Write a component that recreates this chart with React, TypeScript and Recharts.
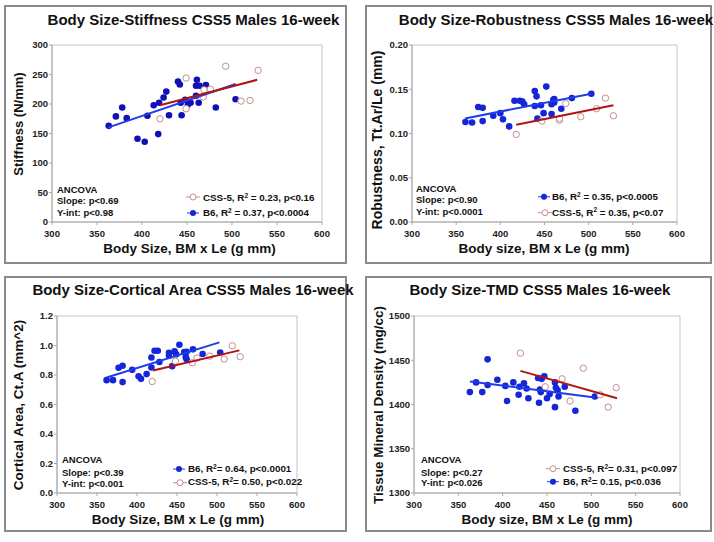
import { ReferenceArea, Scatter, ScatterChart, XAxis, YAxis } from "recharts";

type Pt = [number, number];

const X_TICKS = [300, 350, 400, 450, 500, 550, 600];

// Stiffness panel
const stiffB6: Pt[] = [
  [363, 163], [371, 179], [378, 194], [383, 176], [395, 141], [403, 136], [406, 180],
  [413, 198], [419, 202], [418, 149], [424, 211], [427, 221], [430, 181], [440, 238],
  [442, 233], [444, 181], [443, 202], [448, 207], [451, 199], [454, 202], [461, 241],
  [460, 231], [464, 231], [460, 214], [463, 202], [471, 232], [482, 194], [504, 208],
];
const stiffCss: Pt[] = [
  [449, 244], [493, 264], [529, 257], [420, 175], [449, 192], [468, 212], [469, 224],
  [476, 225], [510, 205], [520, 206],
];
const stiffB6Fit: Pt[] = [[362, 160], [504, 234]];
const stiffCssFit: Pt[] = [[420, 198], [528, 241]];
const stiffTicks = [0, 50, 100, 150, 200, 250, 300];

// Robustness panel
const robB6: Pt[] = [
  [360.5, 0.113], [368, 0.1125], [375, 0.13], [380, 0.129], [380, 0.114], [392, 0.12],
  [400, 0.123], [403, 0.116], [410, 0.108], [416, 0.137], [422, 0.137], [425, 0.136],
  [427, 0.133], [439, 0.131], [439, 0.148], [441, 0.142], [442, 0.117], [446, 0.132],
  [449, 0.123], [452, 0.153], [458, 0.122], [458, 0.133], [460, 0.138], [461, 0.139],
  [461, 0.135], [469, 0.128], [481, 0.14], [503, 0.145],
];
const robCss: Pt[] = [
  [418, 0.099], [447, 0.114], [467, 0.115], [474, 0.134], [491, 0.119], [509, 0.128],
  [519, 0.14], [528, 0.12], [467, 0.117],
];
const robB6Fit: Pt[] = [[360, 0.117], [503, 0.145]];
const robCssFit: Pt[] = [[418, 0.11], [528, 0.132]];
const robTicks = [0, 0.05, 0.1, 0.15, 0.2];

// Cortical area panel
const ctB6: Pt[] = [
  [362, 0.765], [370, 0.765], [377, 0.849], [382, 0.863], [382, 0.752], [394, 0.835],
  [402, 0.792], [405, 0.774], [412, 0.806], [418, 0.919], [418, 0.851], [422, 0.964],
  [426, 0.964], [428, 0.888], [440, 0.951], [440, 0.93], [444, 0.86], [447, 0.96],
  [449, 0.94], [453, 1.005], [459, 0.955], [462, 0.958], [461, 0.921], [462, 0.906],
  [470, 0.974], [482, 0.942], [504, 0.953],
];
const ctCss: Pt[] = [
  [419, 0.756], [448, 0.894], [469, 0.883], [475, 0.915], [491, 0.928], [509, 0.908],
  [519, 0.998], [529, 0.924],
];
const ctB6Fit: Pt[] = [[362, 0.783], [503, 1.021]];
const ctCssFit: Pt[] = [[420, 0.831], [528, 0.967]];
const ctTicks = [0, 0.2, 0.4, 0.6, 0.8, 1.0, 1.2];

// TMD panel
const tmdB6: Pt[] = [
  [363, 1414], [370, 1425], [377, 1414], [383, 1451], [383, 1422], [394, 1428],
  [403, 1421], [405, 1404], [412, 1425], [418, 1411], [419, 1420], [424, 1424],
  [427, 1418], [429, 1407], [440, 1430], [441, 1402], [442, 1417], [443, 1414],
  [444, 1429], [447, 1432], [450, 1407], [453, 1412], [459, 1425], [459, 1397],
  [460, 1419], [462, 1416], [463, 1409], [470, 1420], [482, 1393], [504, 1409],
];
const tmdCss: Pt[] = [
  [420, 1458], [448, 1420], [467, 1429], [476, 1404], [491, 1441], [510, 1411],
  [519, 1397], [528, 1419],
];
const tmdB6Fit: Pt[] = [[363, 1426], [504, 1408]];
const tmdCssFit: Pt[] = [[420, 1438], [529, 1407]];
const tmdTicks = [1300, 1350, 1400, 1450, 1500];

const FONT = "'Liberation Sans', Arial, sans-serif";
const BLUE = "#1526d8";
const BLUE_LINE = "#1f3ee8";
const RED_LINE = "#b01515";
const RING = "#c48f8f";

const toRows = (pts: Pt[]) => pts.map(([x, y]) => ({ x, y }));

function Dot(props: any) {
  const { cx, cy } = props;
  if (cx == null || cy == null) return <g />;
  return <circle cx={cx} cy={cy} r={3.3} fill={props.color ?? BLUE} />;
}

function Ring(props: any) {
  const { cx, cy } = props;
  if (cx == null || cy == null) return <g />;
  return <circle cx={cx} cy={cy} r={3.2} fill="#fff" stroke={RING} strokeWidth={1} />;
}

const tickStyle = { fontSize: 9.5, fontWeight: 700, fill: "#222", fontFamily: FONT };

type PanelProps = {
  frame: { x: number; y: number; w: number; h: number };
  plot: { left: number; right: number; top: number; bottom: number };
  yDomain: [number, number];
  yTicks: number[];
  yFmt: (v: number) => string;
  b6: Pt[];
  css: Pt[];
  b6Fit: Pt[];
  cssFit: Pt[];
  dotColor?: string;
};

function Panel({ frame, plot, yDomain, yTicks, yFmt, b6, css, b6Fit, cssFit, dotColor }: PanelProps) {
  const yW = 40;
  const xH = 20;
  const margin = {
    top: plot.top - frame.y,
    left: plot.left - frame.x - yW,
    right: frame.x + frame.w - plot.right,
    bottom: frame.y + frame.h - plot.bottom - xH,
  };
  return (
    <div style={{ position: "absolute", left: frame.x, top: frame.y }}>
      <ScatterChart width={frame.w} height={frame.h} margin={margin}>
        <XAxis
          type="number"
          dataKey="x"
          domain={[300, 600]}
          ticks={X_TICKS}
          interval={0}
          height={xH}
          tickSize={3}
          tickMargin={5}
          axisLine={{ stroke: "#a8a8a8" }}
          tickLine={{ stroke: "#a8a8a8" }}
          tick={tickStyle}
        />
        <YAxis
          type="number"
          dataKey="y"
          domain={yDomain}
          ticks={yTicks}
          interval={0}
          width={yW}
          tickSize={3}
          tickMargin={1}
          tickFormatter={yFmt}
          axisLine={{ stroke: "#a8a8a8" }}
          tickLine={{ stroke: "#a8a8a8" }}
          tick={tickStyle}
        />
        <ReferenceArea
          x1={300}
          x2={600}
          y1={yDomain[0]}
          y2={yDomain[1]}
          fill="none"
          fillOpacity={0}
          stroke="#c4c4c4"
          strokeWidth={1}
        />
        <Scatter data={toRows(b6)} shape={(p: any) => <Dot {...p} color={dotColor} />} isAnimationActive={false} />
        <Scatter data={toRows(css)} shape={Ring} isAnimationActive={false} />
        <Scatter
          data={toRows(b6Fit)}
          line={{ stroke: BLUE_LINE, strokeWidth: 2 }}
          shape={() => <g />}
          isAnimationActive={false}
        />
        <Scatter
          data={toRows(cssFit)}
          line={{ stroke: RED_LINE, strokeWidth: 2 }}
          shape={() => <g />}
          isAnimationActive={false}
        />
      </ScatterChart>
    </div>
  );
}

function Frame({ x, y, w, h }: { x: number; y: number; w: number; h: number }) {
  return (
    <div
      style={{
        position: "absolute",
        left: x,
        top: y,
        width: w,
        height: h,
        boxSizing: "border-box",
        border: "2px solid #8a8a8a",
      }}
    />
  );
}

function Key({ x, y, kind }: { x: number; y: number; kind: "b6" | "css" }) {
  if (kind === "b6") {
    return (
      <g>
        <line x1={x - 6} x2={x + 6} y1={y} y2={y} stroke={BLUE_LINE} strokeWidth={1} />
        <circle cx={x} cy={y} r={3} fill={BLUE} />
      </g>
    );
  }
  return (
    <g>
      <line x1={x - 7} x2={x + 7} y1={y} y2={y} stroke={RING} strokeWidth={1} />
      <circle cx={x} cy={y} r={3} fill="#fff" stroke={RING} />
    </g>
  );
}

function LegendRow(props: { kx: number; ky: number; tx: number; ty: number; kind: "b6" | "css"; pre: string; post: string }) {
  const { kx, ky, tx, ty, kind, pre, post } = props;
  return (
    <g>
      <Key x={kx} y={ky} kind={kind} />
      <text x={tx} y={ty} fontSize={9.8} fontWeight={700} fill="#111">
        {pre}
        <tspan dy={-3.5} fontSize={6.5}>2</tspan>
        <tspan dy={3.5}>{post}</tspan>
      </text>
    </g>
  );
}

function Ancova({ x, y, lines }: { x: number; y: number[]; lines: string[] }) {
  return (
    <g>
      {lines.map((t, i) => (
        <text key={t} x={x} y={y[i]} fontSize={9.5} fontWeight={700} fill="#111">
          {t}
        </text>
      ))}
    </g>
  );
}

function YTitle({ x, y, size, text }: { x: number; y: number; size: number; text: string }) {
  return (
    <text
      transform={`translate(${x}, ${y}) rotate(-90)`}
      textAnchor="middle"
      fontSize={size}
      fontWeight={700}
      fill="#111"
    >
      {text}
    </text>
  );
}

function Labels() {
  return (
    <svg
      width={714}
      height={542}
      style={{ position: "absolute", left: 0, top: 0, pointerEvents: "none", fontFamily: FONT }}
    >
      <g fontWeight={700} fill="#111">
        <text x={193.5} y={25} textAnchor="middle" fontSize={15}>Body Size-Stiffness CSS5 Males 16-week</text>
        <text x={556} y={25} textAnchor="middle" fontSize={15}>Body Size-Robustness CSS5 Males 16-week</text>
        <text x={193} y={295} textAnchor="middle" fontSize={15}>Body Size-Cortical Area CSS5 Males 16-week</text>
        <text x={540} y={295} textAnchor="middle" fontSize={15}>Body Size-TMD CSS5 Males 16-week</text>

        <text x={189.5} y={252.5} textAnchor="middle" fontSize={13.5}>Body Size, BM x Le (g mm)</text>
        <text x={544} y={252.5} textAnchor="middle" fontSize={13.5}>Body size, BM x Le (g mm)</text>
        <text x={178} y={524} textAnchor="middle" fontSize={13.5}>Body Size, BM x Le (g mm)</text>
        <text x={547} y={524} textAnchor="middle" fontSize={13.5}>Body size, BM x Le (g mm)</text>
      </g>

      <YTitle x={23} y={124} size={13} text="Stiffness (N/mm)" />
      <YTitle x={382} y={140} size={14} text="Robustness, Tt.Ar/Le (mm)" />
      <YTitle x={23} y={405} size={13.5} text="Cortical Area, Ct.A (mm^2)" />
      <YTitle x={383} y={405} size={13.5} text="Tissue Mineral Density (mg/cc)" />

      <Ancova x={57} y={[192.5, 204, 215.7]} lines={["ANCOVA", "Slope: p<0.69", "Y-int: p<0.98"]} />
      <LegendRow kx={193} ky={197} tx={203} ty={201} kind="css" pre="CSS-5, R" post=" = 0.23, p<0.16" />
      <LegendRow kx={193} ky={213} tx={203} ty={216} kind="b6" pre="B6, R" post=" = 0.37, p<0.0004" />

      <Ancova x={416} y={[191.7, 203.3, 215]} lines={["ANCOVA", "Slope: p<0.90", "Y-int: p<0.0001"]} />
      <LegendRow kx={544} ky={196.7} tx={552} ty={200} kind="b6" pre="B6, R" post="  = 0.35, p<0.0005" />
      <LegendRow kx={545} ky={212.7} tx={552} ty={215.7} kind="css" pre="CSS-5, R" post=" = 0.35, p<0.07" />

      <Ancova x={62} y={[463.3, 475.7, 486.7]} lines={["ANCOVA", "Slope: p<0.39", "Y-int: p<0.001"]} />
      <LegendRow kx={179} ky={469} tx={188} ty={472.3} kind="b6" pre="B6, R" post="= 0.64, p<0.0001" />
      <LegendRow kx={180} ky={482.7} tx={188} ty={485.3} kind="css" pre="CSS-5, R" post="= 0.50, p<0.022" />

      <Ancova x={421} y={[463.3, 475.7, 486]} lines={["ANCOVA", "Slope: p<0.27", "Y-int: p<0.026"]} />
      <LegendRow kx={553} ky={468.7} tx={563} ty={472.3} kind="css" pre="CSS-5, R" post="= 0.31, p<0.097" />
      <LegendRow kx={553} ky={481.7} tx={563} ty={485.3} kind="b6" pre="B6, R" post="= 0.15, p<0.036" />
    </svg>
  );
}

const frames = [
  { x: 4, y: 5, w: 343, h: 259 },
  { x: 365, y: 5, w: 347, h: 259 },
  { x: 4, y: 276, w: 343, h: 256 },
  { x: 365, y: 276, w: 347, h: 256 },
];

export default function App() {
  return (
    <div style={{ position: "absolute", left: 0, top: 0, width: 714, height: 542, background: "#fff", fontFamily: FONT }}>
      {frames.map((f, i) => (
        <Frame key={i} {...f} />
      ))}
      <Panel
        frame={frames[0]}
        plot={{ left: 52, right: 322, top: 45, bottom: 222 }}
        yDomain={[0, 300]}
        yTicks={stiffTicks}
        yFmt={(v) => String(v)}
        b6={stiffB6}
        css={stiffCss}
        b6Fit={stiffB6Fit}
        cssFit={stiffCssFit}
        dotColor="#1010b8"
      />
      <Panel
        frame={frames[1]}
        plot={{ left: 412, right: 677, top: 45, bottom: 222 }}
        yDomain={[0, 0.2]}
        yTicks={robTicks}
        yFmt={(v) => v.toFixed(2)}
        b6={robB6}
        css={robCss}
        b6Fit={robB6Fit}
        cssFit={robCssFit}
      />
      <Panel
        frame={frames[2]}
        plot={{ left: 57, right: 297, top: 316, bottom: 493 }}
        yDomain={[0, 1.2]}
        yTicks={ctTicks}
        yFmt={(v) => v.toFixed(1)}
        b6={ctB6}
        css={ctCss}
        b6Fit={ctB6Fit}
        cssFit={ctCssFit}
      />
      <Panel
        frame={frames[3]}
        plot={{ left: 414, right: 680, top: 316, bottom: 493 }}
        yDomain={[1300, 1500]}
        yTicks={tmdTicks}
        yFmt={(v) => String(v)}
        b6={tmdB6}
        css={tmdCss}
        b6Fit={tmdB6Fit}
        cssFit={tmdCssFit}
      />
      <Labels />
    </div>
  );
}
